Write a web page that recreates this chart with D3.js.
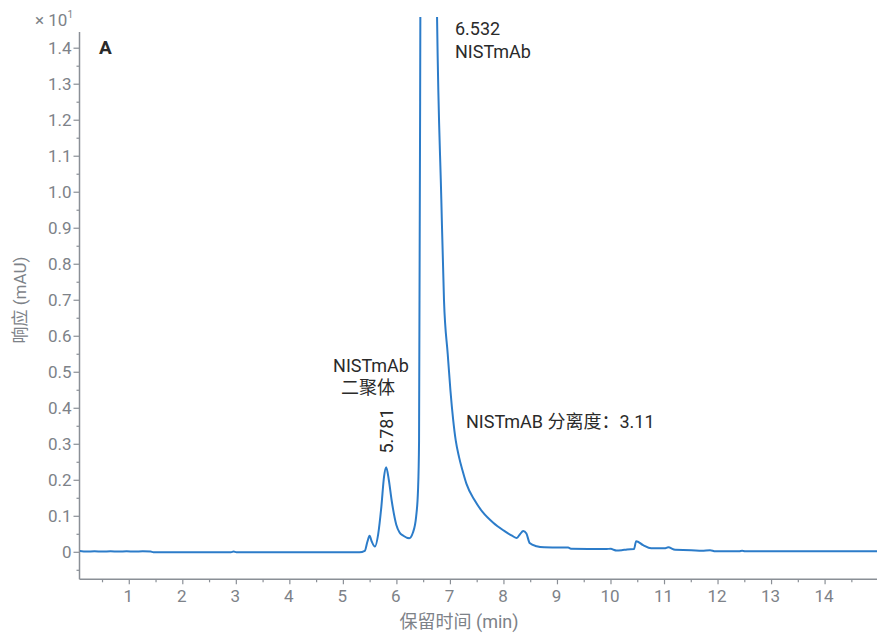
<!DOCTYPE html>
<meta charset="utf-8">
<script src="https://d3js.org/d3.v7.min.js"></script>
<style>
  body { margin: 0; background: #fff; }
  text { font-family: Roboto, "Noto Sans CJK SC", sans-serif; }
</style>
<div id="chart"></div>
<script>

// retention time (min) and response (x10 mAU)
var times = [0.07, 0.2, 0.35, 0.5, 0.65, 0.8, 0.95, 1.1, 1.25, 1.4, 1.45, 2.9, 2.95, 3.0,
  5.30, 5.40, 5.45, 5.49, 5.53, 5.59, 5.65, 5.71, 5.76, 5.80, 5.85, 5.90, 5.99, 6.05, 6.12,
  6.23, 6.30, 6.36, 6.395, 6.414, 6.44, 6.48, 6.532, 6.60, 6.70, 6.75, 6.83, 6.88, 6.95,
  7.0, 7.05, 7.1, 7.16, 7.23, 7.3, 7.45, 7.6, 7.8, 8.0, 8.15, 8.24, 8.30, 8.36, 8.42, 8.48,
  8.61, 8.75, 9.2, 9.25, 9.9, 10.0, 10.05, 10.1, 10.2, 10.3, 10.43, 10.47, 10.6, 10.75,
  11.0, 11.07, 11.2, 11.5, 11.7, 11.85, 11.95, 12.4, 12.45, 12.5, 14.97];
var response = [0.004, 0.002, 0.003, 0.002, 0.003, 0.002, 0.003, 0.002, 0.003, 0.002, 0.0, 0.0, 0.002, 0.0,
  0.0, 0.004, 0.03, 0.046, 0.03, 0.016, 0.05, 0.127, 0.21, 0.236, 0.2, 0.146, 0.076, 0.055, 0.046,
  0.039, 0.055, 0.1, 0.174, 0.31, 1.6, 4.5, 7.0, 5.0, 2.2, 1.49, 0.98, 0.70, 0.55,
  0.45, 0.37, 0.31, 0.265, 0.225, 0.19, 0.145, 0.112, 0.082, 0.06, 0.046, 0.04, 0.05, 0.059, 0.052, 0.026,
  0.017, 0.014, 0.013, 0.01, 0.009, 0.01, 0.007, 0.005, 0.006, 0.008, 0.009, 0.031, 0.02, 0.011,
  0.011, 0.014, 0.007, 0.006, 0.004, 0.006, 0.003, 0.003, 0.004, 0.003, 0.003];

var xTicks = [1, 2, 3, 4, 5, 6, 7, 8, 9, 10, 11, 12, 13, 14];
var yTicks = [0, 0.1, 0.2, 0.3, 0.4, 0.5, 0.6, 0.7, 0.8, 0.9, 1.0, 1.1, 1.2, 1.3, 1.4];

var data = times.map(function(t, i) { return {t: t, v: response[i]}; });

var width = 877, height = 635;
var axisColor = "#8a8f96", labelColor = "#7d8288", lineColor = "#2c7cc9";

var svg = d3.select("#chart").append("svg")
  .attr("width", width)
  .attr("height", height);

var x = d3.scaleLinear().domain([0.07, 14.97]).range([79.5, 877]);
var y = d3.scaleLinear().domain([-0.075, 1.445]).range([579.3, 32]);

// Y axis
var yAxis = svg.append("g").attr("transform", "translate(79.5,0)");
yAxis.append("line").attr("y1", y.range()[1]).attr("y2", y.range()[0])
  .attr("stroke", axisColor).attr("stroke-width", 1.5);
yAxis.selectAll(".ymaj").data(yTicks).enter().append("line")
  .attr("x1", -6).attr("x2", 0).attr("y1", d => y(d)).attr("y2", d => y(d))
  .attr("stroke", axisColor).attr("stroke-width", 1.2);
yAxis.selectAll(".ymin").data(d3.range(-0.05, 1.44, 0.1)).enter().append("line")
  .attr("x1", -3).attr("x2", 0).attr("y1", d => y(d)).attr("y2", d => y(d))
  .attr("stroke", axisColor).attr("stroke-width", 1.2);
yAxis.selectAll(".ylab").data(yTicks).enter().append("text")
  .attr("x", -8).attr("y", d => y(d)).attr("dy", "0.36em")
  .attr("text-anchor", "end").attr("font-size", 17).attr("fill", labelColor)
  .text(d => d === 0 ? "0" : d.toFixed(1));

// X axis
var xAxis = svg.append("g").attr("transform", "translate(0,579.3)");
xAxis.append("line").attr("x1", x.range()[0]).attr("x2", x.range()[1])
  .attr("stroke", axisColor).attr("stroke-width", 1.5);
xAxis.selectAll(".xmaj").data(xTicks).enter().append("line")
  .attr("x1", d => x(d)).attr("x2", d => x(d)).attr("y1", 0).attr("y2", 5)
  .attr("stroke", axisColor).attr("stroke-width", 1.2);
xAxis.selectAll(".xmin").data(d3.range(0.5, 15, 1)).enter().append("line")
  .attr("x1", d => x(d)).attr("x2", d => x(d)).attr("y1", 0).attr("y2", 3)
  .attr("stroke", axisColor).attr("stroke-width", 1.2);
xAxis.selectAll(".xlab").data(xTicks).enter().append("text")
  .attr("x", d => x(d) - 1).attr("y", 23)
  .attr("text-anchor", "middle").attr("font-size", 17).attr("fill", labelColor)
  .text(d => d);

// axis titles
svg.append("text").attr("x", 459).attr("y", 628)
  .attr("text-anchor", "middle").attr("font-size", 18).attr("fill", labelColor)
  .text("保留时间 (min)");
svg.append("text").attr("transform", "translate(26,300) rotate(-90)")
  .attr("text-anchor", "middle").attr("font-size", 17).attr("fill", labelColor)
  .text("响应 (mAU)");
var mult = svg.append("text").attr("x", 35).attr("y", 26)
  .attr("font-size", 17).attr("fill", labelColor);
mult.append("tspan").text("× 10");
mult.append("tspan").attr("font-size", 10).attr("dy", -8).text("1");

// trace
svg.append("clipPath").attr("id", "clip").append("rect")
  .attr("x", 80).attr("y", 17).attr("width", 800).attr("height", 562);
svg.append("path")
  .datum(data)
  .attr("clip-path", "url(#clip)")
  .attr("fill", "none")
  .attr("stroke", lineColor)
  .attr("stroke-width", 2)
  .attr("stroke-linejoin", "round")
  .attr("d", d3.line()
    .x(d => x(d.t))
    .y(d => y(d.v))
    .curve(d3.curveMonotoneX));

// annotations
var ink = "#2a2a2a";
svg.append("text").attr("x", 99).attr("y", 54)
  .attr("font-size", 19).attr("font-weight", "bold").attr("fill", ink).text("A");
svg.append("text").attr("x", 455).attr("y", 35)
  .attr("font-size", 18).attr("fill", ink).text("6.532");
svg.append("text").attr("x", 455).attr("y", 58)
  .attr("font-size", 18).attr("fill", ink).text("NISTmAb");
svg.append("text").attr("x", 371).attr("y", 372).attr("text-anchor", "middle")
  .attr("font-size", 18).attr("fill", ink).text("NISTmAb");
svg.append("text").attr("x", 368).attr("y", 394).attr("text-anchor", "middle")
  .attr("font-size", 18).attr("fill", ink).text("二聚体");
svg.append("text").attr("transform", "translate(393," + 431 + ") rotate(-90)")
  .attr("text-anchor", "middle").attr("font-size", 18).attr("fill", ink).text("5.781");
svg.append("text").attr("x", 466).attr("y", 428)
  .attr("font-size", 18).attr("fill", ink).text("NISTmAB 分离度：3.11");

</script>
